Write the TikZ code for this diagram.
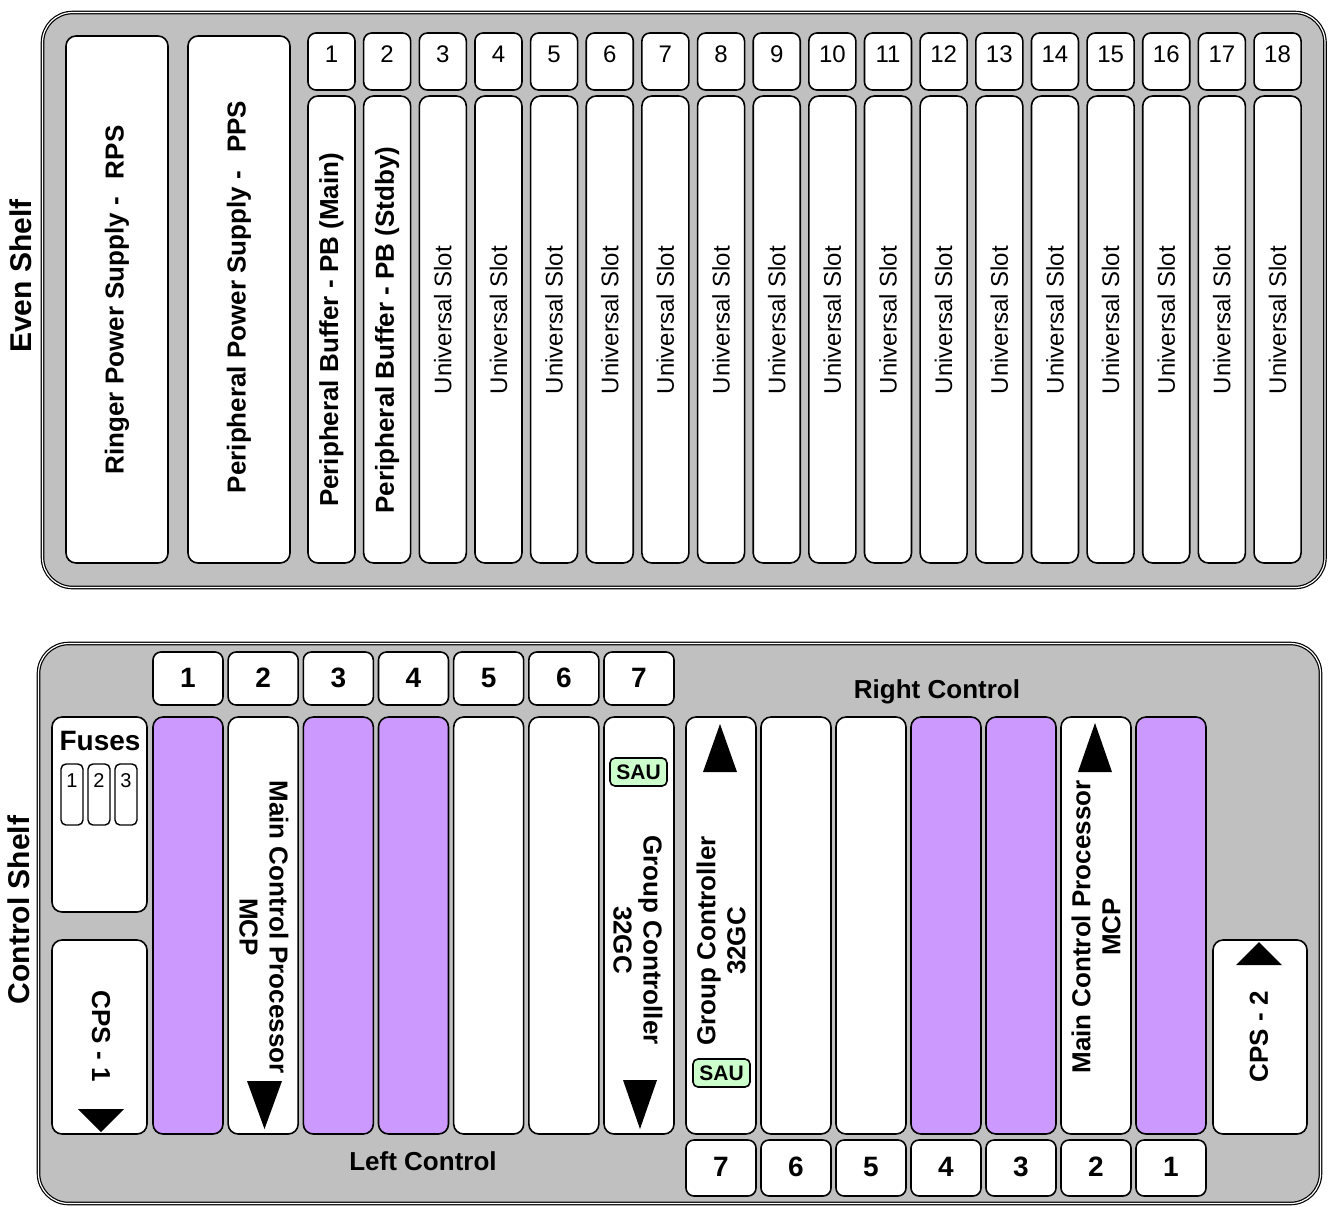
\documentclass[tikz,border=0pt]{standalone}
\usepackage{fontspec}
\setmainfont{Liberation Sans}
\definecolor{shelfgray}{HTML}{C0C0C0}
\definecolor{slotpurple}{HTML}{CC99FF}
\definecolor{saugreen}{HTML}{CCFFCC}
\newcommand\myB{\bfseries\fontsize{13}{15}\selectfont}
\newcommand\myNum{\bfseries\fontsize{14}{16}\selectfont}
\newcommand\myN{\fontsize{12}{14}\selectfont}
\newcommand\myShelf{\bfseries\fontsize{15}{17}\selectfont}
\tikzset{
  sz/.style 2 args={minimum width={(#1)*0.5pt}, minimum height={(#2)*0.5pt}},
  shelf/.style={draw=black, line width=0.6pt, double=white, double distance=0.6pt, fill=shelfgray, rounded corners=15pt},
  box/.style={draw=black, line width=0.8pt, fill=white, rounded corners=5pt, inner sep=0pt},
  numbox/.style={box, rounded corners=4pt},
  smallbox/.style={draw=black, line width=0.7pt, fill=white, rounded corners=2.5pt, inner sep=0pt},
  saubox/.style={draw=black, line width=0.8pt, fill=saugreen, rounded corners=2.5pt, inner sep=0pt, font=\bfseries\fontsize{10.5}{12}\selectfont},
  tri/.style={fill=black, draw=none},
  lbl/.style={inner sep=0pt, align=center}
}
\begin{document}
\begin{tikzpicture}[x=0.5pt,y=-0.5pt]
\useasboundingbox (0,0) rectangle (1334,1206);
% ================= Even shelf =================
\draw[shelf] (42.5,12.5) rectangle (1325,587.5);
\node[lbl, rotate=90, font=\myShelf] (evenlbl) at (21,276) {Even Shelf};
\node[box, sz={102}{527}] (rps) at (117,299.5) {};
\node[lbl, rotate=90, font=\myB] (rpst) at (117,300) {Ringer Power Supply -\hspace{9pt}RPS};
\node[box, sz={102}{527}] (pps) at (239,299.5) {};
\node[lbl, rotate=90, font=\myB] (ppst) at (239,297) {Peripheral Power Supply -\hspace{9pt}PPS};
\foreach \i in {1,...,18}{
  \pgfmathsetmacro\xc{308+(\i-1)*55.65+23.5}
  \node[numbox, sz={47}{57}] (en\i) at (\xc,61.5) {};
  \node[lbl, font=\myN] (enn\i) at (\xc,54) {\i};
  \node[box, sz={47}{467}] (es\i) at (\xc,329.5) {};
}
\foreach \i in {3,...,18}{
  \pgfmathsetmacro\xc{308+(\i-1)*55.65+23.5}
  \node[lbl, rotate=90, font=\myN] (est\i) at (\xc,320) {Universal Slot};
}
\node[lbl, rotate=90, font=\myB] (pbmain) at (331.5,330) {Peripheral Buffer - PB (Main)};
\node[lbl, rotate=90, font=\myB] (pbstby) at (387.2,330) {Peripheral Buffer - PB (Stdby)};
% ================= Control shelf =================
\draw[shelf] (38.5,643.5) rectangle (1320.5,1203.5);
\node[lbl, rotate=90, font=\myShelf] (ctrllbl) at (19,910) {Control Shelf};
\node[lbl, font=\myB] (rightctl) at (937,692) {Right Control};
\node[lbl, font=\myB] (leftctl) at (423,1161) {Left Control};
% left control slots
\foreach \i/\c in {1/slotpurple,2/white,3/slotpurple,4/slotpurple,5/white,6/white,7/white}{
  \pgfmathsetmacro\xc{153+(\i-1)*75.17+35}
  \node[numbox, sz={70}{53}] (ct\i) at (\xc,678.5) {};
  \node[lbl, font=\myNum] (ctn\i) at (\xc,678) {\i};
  \node[box, fill=\c, sz={70}{417}] (cl\i) at (\xc,925.5) {};
}
% right control slots
\foreach \j/\c in {7/white,6/white,5/white,4/slotpurple,3/slotpurple,2/white,1/slotpurple}{
  \pgfmathsetmacro\xc{686+(7-\j)*75+35}
  \node[box, fill=\c, sz={70}{417}] (cr\j) at (\xc,925.5) {};
  \node[numbox, sz={70}{56}] (cb\j) at (\xc,1168) {};
  \node[lbl, font=\myNum] (cbn\j) at (\xc,1167) {\j};
}
% fuses
\node[box, sz={95}{195}] (fuses) at (99.5,814.5) {};
\node[lbl, font=\myNum] (fusest) at (100,741) {Fuses};
\foreach \k/\xc in {1/72,2/99,3/126}{
  \node[smallbox, sz={22}{61}] (fu\k) at (\xc,794.5) {};
  \node[lbl, font=\fontsize{10}{11}\selectfont] (fun\k) at (\xc,781) {\k};
}
% CPS boxes
\node[box, sz={95}{194}] (cps1) at (99.5,1037) {};
\node[lbl, rotate=-90, font=\myB] (cps1t) at (101,1036) {CPS - 1};
\draw[tri] (78,1109) -- (124,1109) -- (101,1132) -- cycle;
\node[box, sz={94}{194}] (cps2) at (1260,1037) {};
\node[lbl, rotate=90, font=\myB] (cps2t) at (1259,1037) {CPS - 2};
\draw[tri] (1236,965) -- (1282,965) -- (1259,942) -- cycle;
% left MCP
\node[lbl, rotate=-90, font=\myB] (lmcp) at (264,927) {Main Control Processor\\MCP};
\draw[tri] (247,1081) -- (282,1081) -- (264.5,1129) -- cycle;
% left GC
\node[saubox, sz={57}{28}] (saul) at (638.5,772) {SAU};
\node[lbl, rotate=-90, font=\myB] (lgc) at (638,940) {Group Controller\\32GC};
\draw[tri] (623,1080) -- (657,1080) -- (640,1129) -- cycle;
% right GC
\node[lbl, rotate=90, font=\myB] (rgc) at (721,941) {Group Controller\\32GC};
\draw[tri] (703,772) -- (737,772) -- (720,724) -- cycle;
\node[saubox, sz={57}{28}] (saur) at (721.5,1073) {SAU};
% right MCP
\node[lbl, rotate=90, font=\myB] (rmcp) at (1096,927) {Main Control Processor\\MCP};
\draw[tri] (1078,772) -- (1112,772) -- (1095,723) -- cycle;
\end{tikzpicture}
\end{document}
